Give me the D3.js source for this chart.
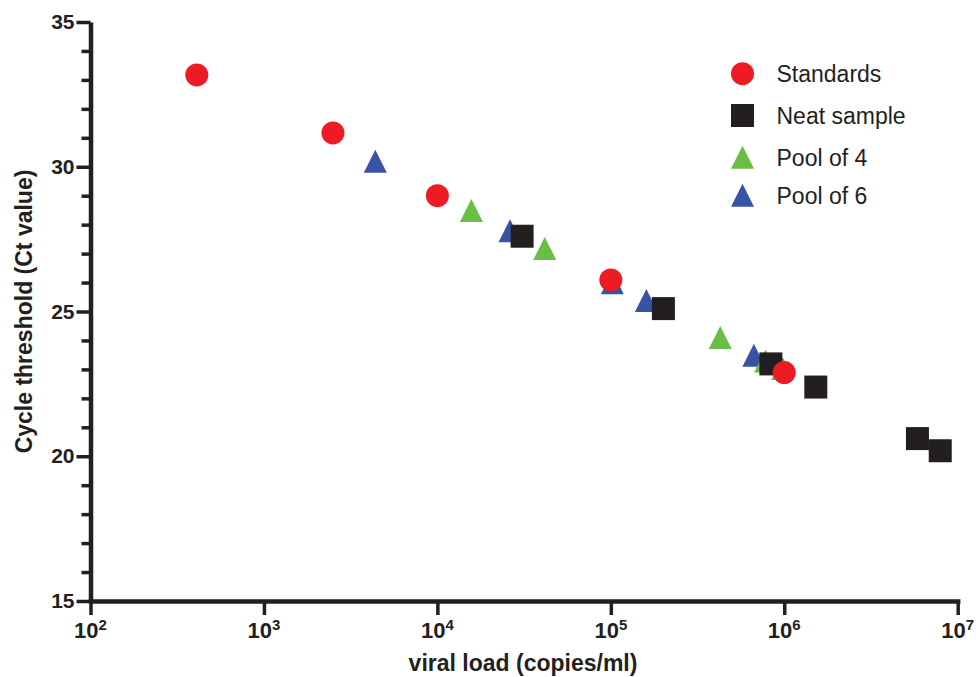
<!DOCTYPE html>
<html>
<head>
<meta charset="utf-8">
<script src="https://cdn.jsdelivr.net/npm/d3@7"></script>
<style>
    body { margin: 0; background: #fff; }
    text { font-family: "Liberation Sans", Arial, Helvetica, sans-serif; fill: #231f20; }
</style>
</head>
<body>
<div id="chart"></div>
<script>
// viral load (copies/ml) vs Ct value
const standardsX = [410, 2500, 10000, 100000, 1000000];
const standardsY = [33.17, 31.17, 29.0, 26.09, 22.89];

const neatX = [30800, 201000, 837000, 1520000, 5860000, 7930000];
const neatY = [27.6, 25.1, 23.19, 22.39, 20.61, 20.19];

const pool4X = [15700, 41600, 427600, 780000, 980000];
const pool4Y = [28.49, 27.18, 24.1, 23.29, 23.03];

const pool6X = [4385, 26240, 102000, 160300, 668000];
const pool6Y = [30.19, 27.79, 25.99, 25.38, 23.49];

const xTickExponents = [2, 3, 4, 5, 6, 7];
const yMajorTicks = [15, 20, 25, 30, 35];
const yMinorTicks = [16, 17, 18, 19, 21, 22, 23, 24, 26, 27, 28, 29, 31, 32, 33, 34];

const seriesNames = ['Standards', 'Neat sample', 'Pool of 4', 'Pool of 6'];

const ink = '#231f20';
const colors = { standards: '#ed1c24', neat: '#231f20', pool4: '#6abd45', pool6: '#3953a4' };

// GraphPad-style triangle: as tall as it is wide
const tallTriangle = {
    draw(context, size) {
        const s = Math.sqrt(size);
        context.moveTo(0, -s / 2);
        context.lineTo(s / 2, s / 2);
        context.lineTo(-s / 2, s / 2);
        context.closePath();
    }
};

const shapes = {
    standards: d3.symbol().type(d3.symbolCircle).size(Math.PI * 11.5 * 11.5),
    neat: d3.symbol().type(d3.symbolSquare).size(23 * 23),
    pool4: d3.symbol().type(tallTriangle).size(23 * 23),
    pool6: d3.symbol().type(tallTriangle).size(23 * 23)
};

const zip = (xs, ys) => xs.map((v, i) => ({ x: v, y: ys[i] }));

const W = 976, H = 677;
const svg = d3.select('#chart').append('svg').attr('width', W).attr('height', H);

const x = d3.scaleLog().domain([1e2, 1e7]).range([90.5, 957.7]);
const y = d3.scaleLinear().domain([15, 35]).range([601, 22]);

// y axis, major then minor ticks
const yAxis = svg.append('g').attr('transform', `translate(${x(1e2)},0)`)
    .call(d3.axisLeft(y).tickValues(yMajorTicks).tickSize(14).tickSizeOuter(0).tickPadding(2));
yAxis.select('.domain').attr('stroke', ink).attr('stroke-width', 4.5);
yAxis.selectAll('.tick line').attr('stroke', ink).attr('stroke-width', 3.5);
yAxis.selectAll('.tick text')
    .attr('font-size', 21).attr('font-weight', 'bold').attr('fill', ink)
    .attr('font-family', '"Liberation Sans", Arial, sans-serif');

const yMinor = svg.append('g').attr('transform', `translate(${x(1e2)},0)`)
    .call(d3.axisLeft(y).tickValues(yMinorTicks).tickSize(9).tickFormat(''));
yMinor.select('.domain').remove();
yMinor.selectAll('.tick line').attr('stroke', ink).attr('stroke-width', 3.5);

// x axis, decades only
const xAxis = svg.append('g').attr('transform', `translate(0,${y(15)})`)
    .call(d3.axisBottom(x).tickValues(xTickExponents.map(e => Math.pow(10, e)))
        .tickSize(14).tickSizeOuter(0).tickFormat(''));
xAxis.select('.domain').attr('stroke', ink).attr('stroke-width', 4.5).attr('stroke-linecap', 'square');
xAxis.selectAll('.tick line').attr('stroke', ink).attr('stroke-width', 3.5);

const xLabels = svg.append('g').selectAll('text')
    .data(xTickExponents)
    .enter()
    .append('text')
    .attr('x', d => x(Math.pow(10, d)))
    .attr('y', 638)
    .attr('text-anchor', 'middle')
    .attr('font-weight', 'bold')
    .attr('font-size', 22);
xLabels.append('tspan').text('10');
xLabels.append('tspan').attr('font-size', 15).attr('dy', -8).text(d => d);

// axis titles
svg.append('text')
    .attr('x', 523).attr('y', 671)
    .attr('text-anchor', 'middle')
    .attr('font-weight', 'bold').attr('font-size', 23)
    .text('viral load (copies/ml)');

svg.append('text')
    .attr('transform', 'translate(32,311.5) rotate(-90)')
    .attr('text-anchor', 'middle')
    .attr('font-weight', 'bold').attr('font-size', 23)
    .text('Cycle threshold (Ct value)');

// points: pools first, then neat samples, standards on top
const layers = [
    { key: 'pool6', data: zip(pool6X, pool6Y) },
    { key: 'pool4', data: zip(pool4X, pool4Y) },
    { key: 'neat', data: zip(neatX, neatY) },
    { key: 'standards', data: zip(standardsX, standardsY) }
];

layers.forEach(layer => {
    svg.append('g').selectAll('path')
        .data(layer.data)
        .enter()
        .append('path')
        .attr('transform', d => `translate(${x(d.x)},${y(d.y)})`)
        .attr('d', shapes[layer.key])
        .attr('fill', colors[layer.key]);
});

// legend
const legendKeys = ['standards', 'neat', 'pool4', 'pool6'];
const legendRowY = [73.7, 115.5, 157.3, 195.3];
const legend = svg.append('g').selectAll('g')
    .data(legendKeys)
    .enter()
    .append('g')
    .attr('transform', (d, i) => `translate(742.5,${legendRowY[i]})`);
legend.append('path').attr('d', d => shapes[d]()).attr('fill', d => colors[d]);
legend.append('text')
    .attr('x', 34).attr('y', 8.5)
    .attr('font-size', 23)
    .text((d, i) => seriesNames[i]);
</script>
</body>
</html>
